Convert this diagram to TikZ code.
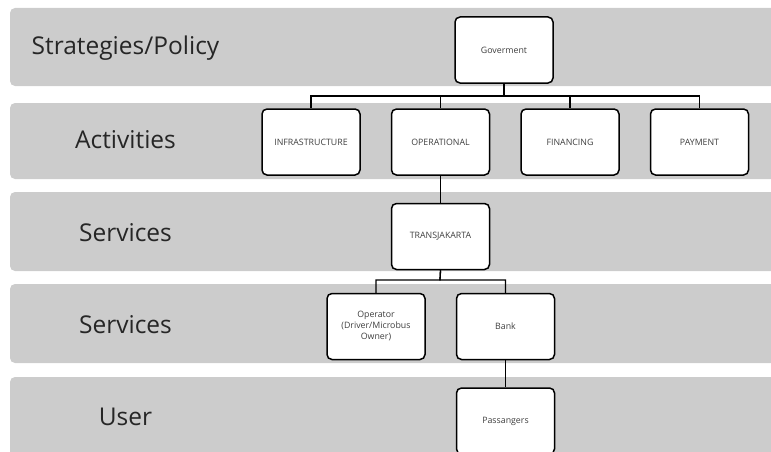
\documentclass[tikz,border=0pt]{standalone}
\usepackage{fontspec}
\setmainfont{Open Sans}
\usetikzlibrary{positioning}

\definecolor{bandgray}{HTML}{CCCCCC}
\definecolor{labelgray}{HTML}{262626}
\definecolor{boxtext}{HTML}{3F3F3F}

\tikzset{
  band/.style={fill=bandgray,rounded corners=5pt},
  layer/.style={anchor=base,text=labelgray,font=\fontsize{24.5}{28}\selectfont},
  unit/.style={draw,line width=1.5pt,rounded corners=5pt,fill=white,minimum width=98pt,minimum height=66pt,inner sep=2pt,align=center,text=boxtext,font=\fontsize{8.8}{11}\selectfont},
  link/.style={line width=1.3pt}
}

\begin{document}
\begin{tikzpicture}[x=1pt,y=-1pt]
  \useasboundingbox (0,0) rectangle (771,452);
  \clip (0,0) rectangle (771,452);
  % layer bands
  \foreach \top/\bot in {8/86,103/179,192/271,284/363,377/470}
    \fill[band] (10,\top) rectangle (790,\bot);
  % layer names
  \node[layer] (strat) at (125.5,55) {Strategies/Policy};
  \node[layer] (act) at (125.5,148) {Activities};
  \node[layer] (serv1) at (125.5,241) {Services};
  \node[layer] (serv2) at (125.5,333) {Services};
  \node[layer] (usr) at (125.5,425) {User};
  % boxes
  \node[unit] (gov) at (504,50) {Goverment};
  \node[unit] (infra) at (311,142) {INFRASTRUCTURE};
  \node[unit,right=30pt of infra] (oper) {OPERATIONAL};
  \node[unit,right=30pt of oper] (fin) {FINANCING};
  \node[unit,right=30pt of fin] (pay) {PAYMENT};
  \node[unit,below=27pt of oper] (trans) {TRANSJAKARTA};
  \node[unit] (opr) at (376,326.5) {Operator\\(Driver/Microbus\\Owner)};
  \node[unit,right=30pt of opr] (bank) {Bank};
  \node[unit,below=27pt of bank] (pass) {Passangers};
  % connectors
  \coordinate (govbus) at (504,96);
  \foreach \n in {infra,oper,fin,pay}
    \draw[link] (gov.south) -- (govbus) -| (\n.north);
  \draw[link] (oper) -- (trans);
  \coordinate (transbus) at (440,280);
  \foreach \n in {opr,bank}
    \draw[link] (trans.south) -- (transbus) -| (\n.north);
  \draw[link] (bank) -- (pass);
\end{tikzpicture}
\end{document}
